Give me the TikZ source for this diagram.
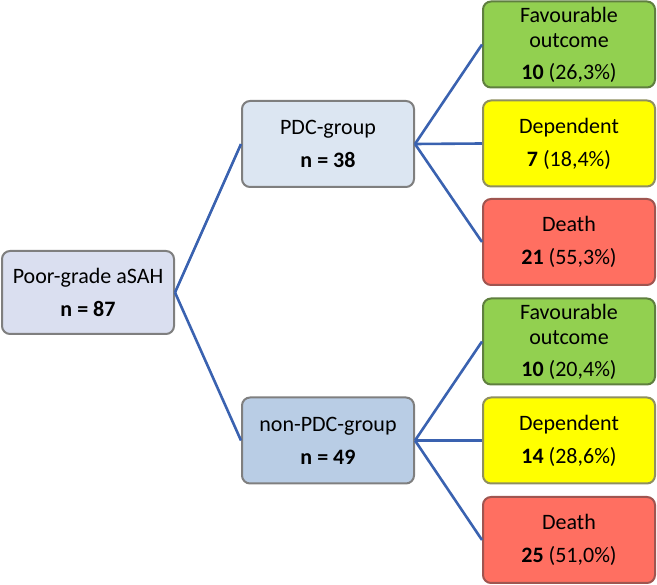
\documentclass[tikz,border=0pt]{standalone}
\usepackage{fontspec}
\setmainfont{Carlito}
\definecolor{rootfill}{HTML}{DADFF0}
\definecolor{pdcfill}{HTML}{DCE6F2}
\definecolor{npdcfill}{HTML}{B9CDE5}
\definecolor{boxborder}{HTML}{7F7F7F}
\definecolor{favfill}{HTML}{92D050}
\definecolor{favborder}{HTML}{5F7F3F}
\definecolor{depfill}{HTML}{FFFF00}
\definecolor{depborder}{HTML}{8F8F5F}
\definecolor{deathfill}{HTML}{FF6F61}
\definecolor{deathborder}{HTML}{9F5550}
\definecolor{linkblue}{HTML}{3A62B0}
\begin{document}
\begin{tikzpicture}[x=1pt,y=-1pt,
  basebox/.style={rounded corners=8pt, line width=2pt, minimum width=172pt,
    align=center, inner sep=0pt, font=\fontsize{22}{25}\selectfont},
  groupbox/.style={basebox, draw=boxborder, minimum height=86pt},
  favbox/.style={basebox, draw=favborder, fill=favfill, minimum height=86pt},
  depbox/.style={basebox, draw=depborder, fill=depfill, minimum height=86pt},
  deathbox/.style={basebox, draw=deathborder, fill=deathfill, minimum height=86pt},
  link/.style={draw=linkblue, line width=2.6pt}]
\useasboundingbox (0,0) rectangle (657,585);
\node[groupbox, fill=rootfill, minimum height=83pt] (root) at (88,292.5) {Poor-grade aSAH\\[8pt]\textbf{n = 87}};
\node[groupbox, fill=pdcfill] (pdc) at (328,144) {PDC-group\\[8pt]\textbf{n = 38}};
\node[groupbox, fill=npdcfill] (npdc) at (328,440.5) {non-PDC-group\\[8pt]\textbf{n = 49}};
\node[favbox] (fav1) at (569,44.5) {Favourable\\outcome\\[7pt]\textbf{10} (26,3\%)};
\node[depbox] (dep1) at (569,143.5) {Dependent\\[8pt]\textbf{7} (18,4\%)};
\node[deathbox] (death1) at (569,242) {Death\\[8pt]\textbf{21} (55,3\%)};
\node[favbox] (fav2) at (569,341.5) {Favourable\\outcome\\[7pt]\textbf{10} (20,4\%)};
\node[depbox] (dep2) at (569,440.5) {Dependent\\[8pt]\textbf{14} (28,6\%)};
\node[deathbox] (death2) at (569,540) {Death\\[8pt]\textbf{25} (51,0\%)};
\draw[link] (root.east) -- (pdc.west);
\draw[link] (root.east) -- (npdc.west);
\draw[link] (pdc.east) -- (fav1.west);
\draw[link] (pdc.east) -- (dep1.west);
\draw[link] (pdc.east) -- (death1.west);
\draw[link] (npdc.east) -- (fav2.west);
\draw[link] (npdc.east) -- (dep2.west);
\draw[link] (npdc.east) -- (death2.west);
\end{tikzpicture}
\end{document}
